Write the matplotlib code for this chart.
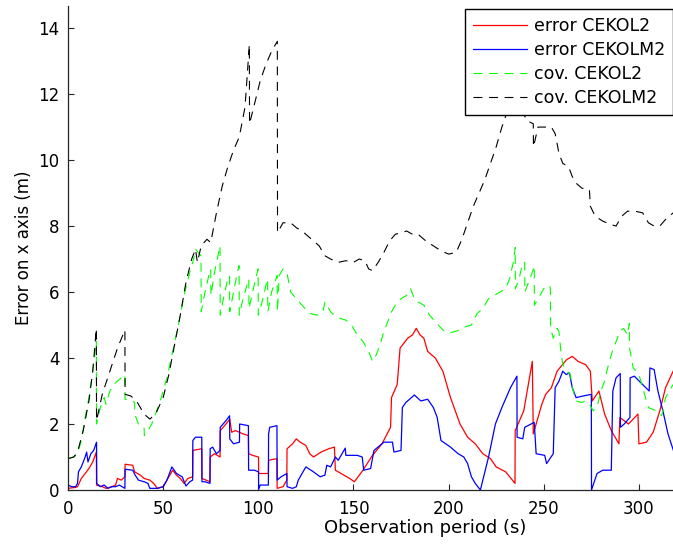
import matplotlib
matplotlib.use("Agg")
import matplotlib.pyplot as plt

# error CEKOL2 (red)
red_x = [0, 4, 5, 7, 9, 11, 13, 14.9, 15, 18, 20, 23, 25, 26, 28, 29.9, 30, 34, 35, 38, 40, 43, 45, 47, 50,
         52, 55, 57, 59, 61, 63, 65.5, 65.6, 70.3, 70.4, 74.6, 74.7, 77, 79.9, 80, 83, 85, 86, 88, 90, 92,
         94.8, 94.9, 97, 100.1, 100.2, 105.3, 105.4, 109.8, 109.9, 113, 115, 115.1, 118, 120, 122, 125, 127,
         129, 133, 137, 140, 140.5, 145, 148, 150.5, 155, 160, 165, 169.5, 170, 173, 174.5, 178.5, 181, 183,
         185, 187, 189, 193, 197, 201, 206, 210, 214, 218, 222, 225, 230, 234.9, 235, 239.5, 244, 244.5, 249,
         251, 254, 257, 262, 265, 268, 272, 274.5, 275.5, 279, 282, 285.5, 289.5, 290, 294.5, 299.5, 300,
         304, 307.5, 311, 314, 318]
red_y = [0.05, 0.08, 0.1, 0.35, 0.5, 0.65, 0.85, 1.15, 0.15, 0.1, 0.05, 0.1, 0.15, 0.35, 0.3, 0.4, 0.78, 0.75,
         0.55, 0.45, 0.35, 0.3, 0.2, 0.05, 0.1, 0.3, 0.6, 0.45, 0.35, 0.2, 0.35, 0.4, 1.2, 1.25, 0.35, 0.25,
         1.0, 1.1, 1.0, 1.8, 2.0, 2.15, 1.75, 1.8, 1.75, 1.7, 1.65, 1.1, 1.05, 1.0, 0.5, 0.5, 0.9, 0.95, 0.05,
         0.1, 0.3, 1.25, 1.4, 1.55, 1.45, 1.35, 1.1, 1.0, 1.15, 1.25, 1.3, 0.6, 0.45, 0.35, 0.25, 0.6, 1.05,
         1.4, 1.9, 2.8, 3.2, 4.3, 4.6, 4.7, 4.9, 4.7, 4.6, 4.2, 4.0, 3.6, 2.8, 2.0, 1.6, 1.4, 1.1, 0.95, 0.7,
         0.55, 0.2, 1.8, 2.4, 3.9, 1.7, 2.6, 2.9, 3.1, 3.6, 3.95, 4.05, 3.9, 3.8, 3.6, 2.7, 3.0, 2.3, 1.8, 1.4,
         2.2, 2.0, 2.3, 1.4, 1.45, 1.75, 2.4, 3.1, 3.6]

# error CEKOLM2 (blue)
blue_x = [0, 2, 4, 5, 5.5, 7, 9, 9.8, 10.5, 12, 13.5, 15, 15.1, 17, 19, 21, 23, 25, 27, 29.9, 30, 34, 35.3,
          37, 40, 42, 43, 47, 50, 52, 54.6, 57, 60, 62, 64, 65.5, 65.6, 67, 70.3, 70.4, 72, 74.6, 74.7, 76,
          78, 79.9, 80, 83, 84.9, 85, 87, 90.1, 90.2, 94.8, 94.9, 98, 100.1, 100.2, 101, 105.3, 105.4, 106,
          109.8, 109.9, 112, 115, 115.1, 118, 120, 121, 125, 129, 132.5, 135, 136, 138, 140.5, 142, 145.7,
          146, 152, 154.6, 155.4, 159, 160.8, 166, 170.5, 171.3, 175, 175.7, 177.5, 182, 185.4, 189, 192,
          194, 196, 201, 205, 208, 210, 212, 214, 216.7, 221, 224.6, 228, 232.5, 235.9, 236, 239, 240, 245,
          246, 250.5, 251.5, 255, 256, 258, 260, 261.8, 263.5, 265, 267, 270.7, 275, 275.1, 278, 281, 285.5,
          286.3, 288, 290.2, 290.3, 292.3, 295.3, 295.4, 297.6, 300.2, 303.7, 305.4, 305.8, 308, 310, 312.6,
          315.3, 318.4]
blue_y = [0.15, 0.1, 0.1, 0.2, 0.55, 0.7, 1.0, 1.15, 0.85, 1.1, 1.2, 1.45, 0.2, 0.1, 0.15, 0.05, 0.1, 0.1,
          0.15, 0.05, 0.63, 0.6, 0.45, 0.3, 0.25, 0.2, 0.05, 0.05, 0.1, 0.3, 0.7, 0.5, 0.4, 0.12, 0.25, 0.3,
          1.5, 1.6, 1.6, 0.25, 0.25, 0.2, 1.25, 1.3, 1.1, 1.2, 1.9, 2.1, 2.25, 1.55, 1.4, 1.45, 2.0, 1.95,
          0.6, 0.6, 0.55, 0.02, 0.15, 0.15, 1.7, 1.9, 1.95, 0.3, 0.4, 0.5, 0.1, 0.05, 0.1, 0.3, 0.7, 0.55,
          0.4, 0.45, 0.75, 0.7, 1.0, 0.9, 1.27, 1.05, 1.05, 1.0, 0.6, 0.65, 1.2, 1.45, 1.45, 1.15, 1.2, 2.5,
          2.65, 2.88, 2.7, 2.75, 2.5, 2.2, 1.5, 1.3, 1.1, 1.0, 0.8, 0.4, 0.2, 0.0, 1.0, 2.0, 2.5, 3.1, 3.45,
          1.6, 1.55, 1.9, 2.05, 1.1, 1.05, 0.8, 1.1, 3.1, 3.3, 3.6, 3.5, 3.55, 3.1, 2.8, 2.85, 2.9, 0.0, 0.5,
          0.6, 0.6, 3.0, 3.4, 3.53, 1.9, 2.0, 2.2, 3.4, 3.45, 3.3, 3.1, 3.0, 3.7, 3.65, 3.0, 2.4, 1.7, 1.15]

# cov. CEKOL2 (green dashed)
green_x = [0, 3, 5, 7, 9, 11, 13, 14.9, 15, 17, 19, 20, 22, 24, 26, 28, 29.9, 30, 34, 35, 35.1, 37, 40,
           40.1, 42, 44, 46, 49, 52, 55, 58, 61, 64, 66, 67, 69.9, 70, 72, 74, 75, 75.1, 77, 79.9, 80, 82, 84,
           84.9, 85, 87, 89, 89.9, 90, 92, 94, 95, 95.1, 97, 99.9, 100, 102, 104, 104.9, 105, 107, 109.9, 110,
           111, 113, 115, 117, 120, 123, 127, 131, 134, 135, 138, 140, 143, 146, 149, 152, 155, 158, 160, 162,
           164, 166, 168, 170, 172, 175, 178, 180, 182, 184, 187, 190, 193, 197, 200, 203, 206, 209, 212, 215,
           218, 221, 224, 227, 230, 232, 234, 235, 235.1, 237, 239, 240, 240.1, 242, 244, 245, 245.1, 248, 250,
           253, 253.5, 253.6, 255, 257, 258, 259, 260, 262, 264, 265, 267, 270, 272, 274, 276, 278, 280, 282,
           284, 286, 288, 290, 292, 294, 295, 295.1, 297, 300, 302, 305, 309, 312, 314, 316, 318]
green_y = [0.95, 1.0, 1.1, 1.5, 2.2, 2.8, 3.6, 4.5, 2.0, 2.5, 2.8, 2.6, 3.0, 3.2, 3.3, 3.4, 3.5, 2.75, 2.7,
           2.65, 2.3, 2.0, 1.9, 1.65, 1.8, 2.0, 2.3, 2.8, 3.4, 4.2, 5.0, 5.9, 6.6, 7.0, 7.3, 7.1, 5.4, 6.0,
           6.5, 6.7, 5.9, 6.6, 7.4, 5.3, 5.9, 6.4, 6.5, 5.4, 6.0, 6.6, 6.8, 5.3, 5.8, 6.2, 6.4, 5.5, 6.0, 6.7,
           5.3, 5.7, 6.2, 6.4, 5.4, 6.0, 6.5, 5.4, 6.5, 6.7, 6.6, 6.0, 5.8, 5.6, 5.35, 5.3, 5.4, 5.7, 5.4,
           5.3, 5.2, 5.15, 5.0, 4.7, 4.5, 4.2, 3.9, 4.1, 4.4, 4.8, 5.1, 5.4, 5.6, 5.8, 5.9, 6.1, 5.8, 5.7,
           5.6, 5.3, 5.1, 4.85, 4.75, 4.8, 4.85, 4.95, 5.0, 5.35, 5.5, 5.8, 5.9, 6.0, 6.1, 6.4, 6.9, 7.35,
           6.1, 6.4, 6.9, 6.9, 6.0, 6.3, 6.6, 6.8, 5.6, 5.9, 6.1, 6.2, 6.1, 4.9, 4.6, 4.9, 4.8, 4.2, 3.8,
           3.6, 3.5, 3.1, 2.7, 2.65, 2.7, 2.6, 2.4, 2.5, 3.0, 3.3, 3.8, 4.2, 4.5, 4.8, 4.9, 4.7, 5.05, 4.3,
           3.7, 3.5, 3.1, 2.5, 2.4, 2.25, 2.8, 3.0, 3.2]

# cov. CEKOLM2 (black dashed)
black_x = [0, 3, 5, 8, 11, 13, 14.9, 15, 18, 22, 26, 29.9, 30, 33, 36, 40, 43, 46, 50, 53, 56, 59, 62, 65,
           67, 68, 70, 73, 75, 78, 81, 84, 87, 90, 93, 95.3, 95.4, 98, 101, 104, 107, 110, 110.1, 113, 117,
           120, 123, 128, 132, 135, 138, 142, 146, 150, 153, 156, 158, 160, 163, 166, 169, 172, 175, 178,
           181, 184, 188, 192, 196, 200, 204, 207, 210, 213, 216, 219, 222, 225, 228, 231, 235, 238, 241,
           244.5, 244.6, 247, 250, 254, 256, 258, 260, 263, 265, 267, 270, 274, 274.5, 277, 281, 285, 288,
           291, 294, 298, 302, 305, 308, 311, 314, 318]
black_y = [0.95, 1.0, 1.15, 1.8, 2.7, 3.6, 4.9, 2.1, 2.9, 3.6, 4.3, 4.85, 2.9, 2.85, 2.7, 2.3, 2.15, 2.3,
           2.8, 3.5, 4.4, 5.3, 6.3, 7.0, 7.3, 6.9, 7.4, 7.6, 7.5, 8.4, 9.2, 9.8, 10.3, 10.7, 11.6, 13.5,
           11.1, 11.7, 12.4, 12.9, 13.3, 13.6, 7.8, 8.1, 8.1, 7.95, 7.85, 7.6, 7.4, 7.1, 7.0, 6.9, 6.95, 6.9,
           7.0, 6.95, 6.7, 6.65, 6.9, 7.2, 7.55, 7.75, 7.8, 7.85, 7.75, 7.75, 7.55, 7.4, 7.25, 7.15, 7.2,
           7.6, 8.1, 8.6, 9.0, 9.4, 9.9, 10.4, 11.0, 11.5, 11.8, 11.6, 11.2, 11.1, 10.4, 11.0, 11.0, 11.0,
           10.8, 10.2, 9.9, 9.8, 9.5, 9.3, 9.15, 9.1, 8.6, 8.3, 8.15, 8.05, 8.0, 8.3, 8.45, 8.45, 8.4, 8.1,
           8.0, 8.0, 8.2, 8.4]

labels = ["error CEKOL2", "error CEKOLM2", "cov. CEKOL2", "cov. CEKOLM2"]

plt.rcParams['font.family'] = ['DejaVu Sans']

W, H = 673, 544
fig = plt.figure(figsize=(W / 100, H / 100), dpi=100)
# axes runs past the right edge of the picture (the original is cropped there)
ax = fig.add_axes([68 / W, 1 - 490 / H, (782 - 68) / W, (490 - 6) / H])

ax.plot(red_x, red_y, color='#ff0000', lw=0.9, label=labels[0])
ax.plot(blue_x, blue_y, color='#0000ff', lw=0.9, label=labels[1])
ax.plot(green_x, green_y, color='#00ff00', lw=0.8, dashes=(8, 6), label=labels[2])
ax.plot(black_x, black_y, color='black', lw=0.8, dashes=(8, 6), label=labels[3])

ax.set_xlim(0, 375.2)
ax.set_ylim(0, 14.67)
ax.set_xticks([0, 50, 100, 150, 200, 250, 300])
ax.set_yticks([0, 2, 4, 6, 8, 10, 12, 14])
ax.spines['top'].set_visible(False)
ax.spines['right'].set_visible(False)
for s in ['left', 'bottom']:
    ax.spines[s].set_linewidth(0.9)
    ax.spines[s].set_color('#262626')
ax.tick_params(direction='in', length=4.5, width=0.8, labelsize=12, color='#262626')
ax.tick_params(axis='x', pad=7)
ax.tick_params(axis='y', pad=6)

ax.set_xlabel('Observation period (s)', fontsize=13, labelpad=1)
ax.set_ylabel('Error on x axis (m)', fontsize=12, labelpad=4)

leg = ax.legend(loc='upper left', bbox_to_anchor=(465 / W, 1 - 9 / H), bbox_transform=fig.transFigure,
                borderaxespad=0, fontsize=12.5, frameon=True, fancybox=False, framealpha=1,
                edgecolor='black', handlelength=3.1, handletextpad=0.4, labelspacing=0.35,
                borderpad=0.45)
leg.get_frame().set_linewidth(1.0)

fig.savefig('out.png', dpi=100)
